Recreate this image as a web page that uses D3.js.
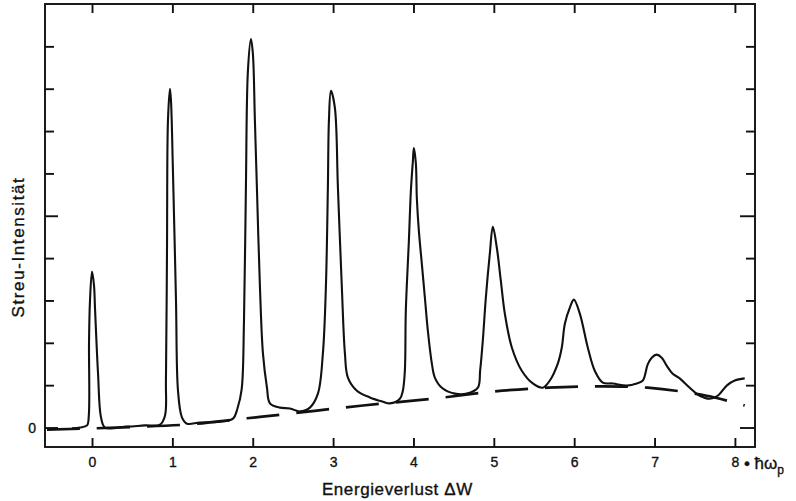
<!DOCTYPE html>
<html>
<head>
<meta charset="utf-8">
<script src="https://cdn.jsdelivr.net/npm/d3@7"></script>
<style>
  body { margin: 0; background: #fff; }
  text { font-family: "Liberation Sans", Arial, sans-serif; fill: #111; stroke: #111; stroke-width: 0.35px; }
  .tick text { font-size: 14px; }
  .axis-text-main { font-size: 17px; }
</style>
</head>
<body>
<div class="chart"></div>
<script>
// Streu-Intensitaet vs. Energieverlust (plasmon loss spectrum)

var svgWidth = 796;
var svgHeight = 501;

var margin = {
  top: 4,
  right: 41,
  bottom: 54,
  left: 45
};

var width = svgWidth - margin.left - margin.right;
var height = svgHeight - margin.top - margin.bottom;

// measured spectrum (energy loss in units of hbar*omega_p, intensity in tick units)
var energyLoss = [-0.249, -0.149, -0.062, -0.040, -0.037, -0.025, 0.000, 0.025, 0.037, 0.075,
  0.112, 0.162, 0.435, 0.659, 0.846, 0.908, 0.920, 0.933, 0.945, 0.970,
  0.983, 1.007, 1.045, 1.070, 1.119, 1.182, 1.343, 1.592, 1.754, 1.810,
  1.862, 1.891, 1.915, 1.940, 1.978, 2.002, 2.027, 2.052, 2.090, 2.127,
  2.177, 2.214, 2.338, 2.463, 2.587, 2.711, 2.811, 2.873, 2.910, 2.935,
  2.948, 2.973, 3.022, 3.060, 3.109, 3.147, 3.184, 3.296, 3.458, 3.619,
  3.706, 3.831, 3.868, 3.893, 3.905, 3.943, 3.968, 3.993, 4.005, 4.030,
  4.042, 4.067, 4.104, 4.142, 4.179, 4.229, 4.266, 4.353, 4.515, 4.664,
  4.801, 4.830, 4.863, 4.900, 4.950, 4.988, 5.037, 5.087, 5.137, 5.224,
  5.348, 5.485, 5.609, 5.697, 5.796, 5.846, 5.884, 5.946, 5.996, 6.070,
  6.169, 6.256, 6.356, 6.480, 6.654, 6.779, 6.854, 6.915, 6.965, 7.027,
  7.089, 7.151, 7.226, 7.313, 7.438, 7.562, 7.687, 7.786, 7.898, 7.998,
  8.122];

var intensity = [-0.02, 0.00, 0.05, 0.28, 2.05, 3.00, 3.68, 3.35, 2.83, 1.27,
  0.24, 0.00, 0.02, 0.05, 0.07, 0.28, 1.11, 4.17, 7.24, 8.00,
  7.71, 6.06, 3.00, 0.87, 0.24, 0.09, 0.12, 0.14, 0.21, 0.45,
  0.90, 2.52, 5.66, 8.42, 9.17, 8.82, 7.24, 5.66, 3.30, 1.75,
  0.94, 0.57, 0.47, 0.45, 0.38, 0.47, 0.80, 1.75, 3.30, 5.66,
  7.24, 7.95, 7.55, 5.66, 3.30, 1.75, 1.18, 0.87, 0.71, 0.61,
  0.57, 0.68, 0.87, 1.34, 2.76, 4.41, 5.59, 6.30, 6.60, 6.23,
  5.42, 4.65, 3.87, 3.07, 2.29, 1.51, 1.18, 0.94, 0.80, 0.80,
  0.94, 1.35, 2.05, 3.05, 4.10, 4.74, 4.25, 3.47, 2.69, 1.89,
  1.34, 1.04, 0.94, 1.11, 1.51, 1.89, 2.45, 2.83, 3.02, 2.69,
  1.89, 1.34, 1.06, 1.04, 0.99, 1.04, 1.11, 1.49, 1.65, 1.72,
  1.65, 1.46, 1.27, 1.16, 0.94, 0.75, 0.68, 0.75, 0.99, 1.11,
  1.16];

// dashed background curve
var backgroundLoss = [-0.560, 1.182, 1.779, 2.090, 2.799, 3.371, 4.241, 4.988, 5.672, 6.281, 6.915, 7.649, 8.122];
var backgroundLevel = [-0.05, 0.07, 0.19, 0.25, 0.40, 0.52, 0.68, 0.85, 0.94, 0.97, 0.94, 0.75, 0.52];

var xTicks = [0, 1, 2, 3, 4, 5, 6, 7, 8];
var yTicks = [0, 1, 2, 3, 4, 5, 6, 7, 8, 9];

var svg = d3
  .select(".chart")
  .append("svg")
  .attr("width", svgWidth)
  .attr("height", svgHeight);

var chartGroup = svg.append("g")
  .attr("transform", `translate(${margin.left}, ${margin.top})`);

var xLinearScale = d3.scaleLinear()
  .domain([-0.585, 8.25])
  .range([0, width]);

var yLinearScale = d3.scaleLinear()
  .domain([-0.46, 10])
  .range([height, 0]);

// axes with inward ticks
var bottomAxis = d3.axisBottom(xLinearScale)
  .tickValues(xTicks)
  .tickSizeInner(-9)
  .tickSizeOuter(0)
  .tickPadding(10)
  .tickFormat(d3.format("d"));

var topAxis = d3.axisTop(xLinearScale)
  .tickValues(xTicks)
  .tickSizeInner(-9)
  .tickSizeOuter(0)
  .tickFormat("");

var leftAxis = d3.axisLeft(yLinearScale)
  .tickValues(yTicks)
  .tickSizeInner(-9)
  .tickSizeOuter(0)
  .tickPadding(9)
  .tickFormat(d => d === 0 ? "0" : "");

var rightAxis = d3.axisRight(yLinearScale)
  .tickValues(yTicks)
  .tickSizeInner(-9)
  .tickSizeOuter(0)
  .tickFormat("");

chartGroup.append("g")
  .attr("transform", `translate(0, ${height})`)
  .call(bottomAxis);

chartGroup.append("g")
  .call(topAxis);

var yAxisLeft = chartGroup.append("g")
  .call(leftAxis);

var yAxisRight = chartGroup.append("g")
  .attr("transform", `translate(${width}, 0)`)
  .call(rightAxis);

// longer ticks at 0 and 5
yAxisLeft.selectAll(".tick line").attr("x2", d => d % 5 === 0 ? 13 : 9);
yAxisRight.selectAll(".tick line").attr("x2", d => d % 5 === 0 ? -15 : -9);

chartGroup.selectAll(".domain").remove();
chartGroup.selectAll(".tick line")
  .attr("stroke", "#111")
  .attr("stroke-width", 1.9);

// frame
chartGroup.append("rect")
  .attr("x", 0)
  .attr("y", 0)
  .attr("width", width)
  .attr("height", height)
  .attr("fill", "none")
  .attr("stroke", "#111")
  .attr("stroke-width", 1.9);

// dashed background
var bgLine = d3.line()
  .x((d, i) => xLinearScale(backgroundLoss[i]))
  .y(d => yLinearScale(d))
  .curve(d3.curveCatmullRom.alpha(0.5));

chartGroup.append("path")
  .attr("d", bgLine(backgroundLevel))
  .attr("fill", "none")
  .attr("stroke", "#111")
  .attr("stroke-width", 2.7)
  .attr("stroke-dasharray", "33,17");

// spectrum
var spectrumLine = d3.line()
  .x((d, i) => xLinearScale(energyLoss[i]))
  .y(d => yLinearScale(d))
  .curve(d3.curveCatmullRom.alpha(0.5));

chartGroup.append("path")
  .attr("d", spectrumLine(intensity))
  .attr("fill", "none")
  .attr("stroke", "#111")
  .attr("stroke-width", 2.1)
  .attr("stroke-linejoin", "round");

// unit after the last tick label
var unitText = chartGroup.append("text")
  .attr("x", xLinearScale(8) + 9)
  .attr("y", height + 22)
  .style("font-size", "17px");
unitText.append("tspan").text("• ħω");
unitText.append("tspan")
  .attr("dy", 5)
  .style("font-size", "12px")
  .text("p");

// x-axis title
chartGroup.append("text")
  .attr("x", xLinearScale(3.8))
  .attr("y", height + 48)
  .attr("text-anchor", "middle")
  .attr("class", "axis-text-main")
  .style("letter-spacing", "0.6px")
  .text("Energieverlust ΔW");

// y-axis title
chartGroup.append("text")
  .attr("transform", `translate(${18 - margin.left}, ${247 - margin.top}) rotate(-90)`)
  .attr("text-anchor", "middle")
  .attr("dy", "0.35em")
  .attr("class", "axis-text-main")
  .style("letter-spacing", "1.6px")
  .text("Streu-Intensität");
</script>
</body>
</html>
